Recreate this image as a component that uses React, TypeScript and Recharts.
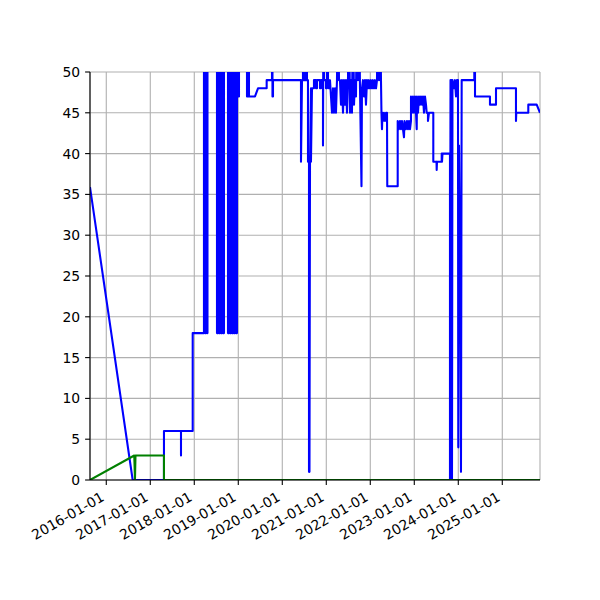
import { LineChart, Line, XAxis, YAxis, CartesianGrid } from "recharts";

// x values are decimal years (2018.5 = mid 2018); y range is clipped at 0..50
const X_MIN = 2015.63;
const X_MAX = 2025.857;
const YEAR_TICKS = [2016, 2017, 2018, 2019, 2020, 2021, 2022, 2023, 2024, 2025];
const Y_TICKS = [0, 5, 10, 15, 20, 25, 30, 35, 40, 45, 50];

const FONT = "DejaVu Sans";
const FONT_SIZE = 13.9;

// values above 50 are off the top of the plot (clipped), as in the original
const BLUE_DATES = [
  2015.63, 2016.6, 2017.311, 2017.311, 2017.698, 2017.698, 2017.698, 2017.964, 2017.964, 2018.22,
  2018.22, 2018.243, 2018.243, 2018.266, 2018.266, 2018.289, 2018.289, 2018.3, 2018.3, 2018.516,
  2018.516, 2018.539, 2018.539, 2018.561, 2018.561, 2018.584, 2018.584, 2018.607, 2018.607, 2018.63,
  2018.63, 2018.652, 2018.652, 2018.675, 2018.675, 2018.766, 2018.766, 2018.789, 2018.789, 2018.811,
  2018.811, 2018.834, 2018.834, 2018.857, 2018.857, 2018.88, 2018.88, 2018.902, 2018.902, 2018.925,
  2018.925, 2018.948, 2018.948, 2018.97, 2018.97, 2018.993, 2018.993, 2019.016, 2019.016, 2019.198,
  2019.198, 2019.22, 2019.22, 2019.243, 2019.243, 2019.38, 2019.448, 2019.645, 2019.645, 2019.766,
  2019.766, 2019.777, 2019.777, 2019.789, 2019.789, 2020.425, 2020.425, 2020.448, 2020.47, 2020.47,
  2020.505, 2020.505, 2020.539, 2020.539, 2020.561, 2020.561, 2020.584, 2020.584, 2020.607, 2020.607,
  2020.618, 2020.63, 2020.652, 2020.652, 2020.675, 2020.72, 2020.72, 2020.766, 2020.766, 2020.789,
  2020.789, 2020.857, 2020.857, 2020.88, 2020.88, 2020.925, 2020.925, 2020.936, 2020.948, 2020.993,
  2020.993, 2021.016, 2021.016, 2021.039, 2021.039, 2021.061, 2021.084, 2021.107, 2021.13, 2021.152,
  2021.175, 2021.198, 2021.22, 2021.243, 2021.266, 2021.289, 2021.311, 2021.334, 2021.357, 2021.38,
  2021.402, 2021.425, 2021.448, 2021.47, 2021.493, 2021.516, 2021.539, 2021.561, 2021.584, 2021.607,
  2021.63, 2021.652, 2021.675, 2021.698, 2021.72, 2021.743, 2021.766, 2021.8, 2021.811, 2021.834,
  2021.857, 2021.88, 2021.902, 2021.925, 2021.948, 2021.97, 2021.993, 2022.016, 2022.039, 2022.061,
  2022.084, 2022.107, 2022.13, 2022.152, 2022.175, 2022.198, 2022.22, 2022.243, 2022.254, 2022.266,
  2022.277, 2022.289, 2022.311, 2022.334, 2022.357, 2022.38, 2022.386, 2022.623, 2022.623, 2022.652,
  2022.675, 2022.698, 2022.72, 2022.743, 2022.766, 2022.777, 2022.811, 2022.834, 2022.857, 2022.88,
  2022.902, 2022.925, 2022.925, 2022.948, 2022.97, 2022.993, 2023.016, 2023.039, 2023.055, 2023.061,
  2023.084, 2023.107, 2023.13, 2023.152, 2023.175, 2023.198, 2023.22, 2023.243, 2023.266, 2023.282,
  2023.311, 2023.311, 2023.334, 2023.432, 2023.432, 2023.505, 2023.509, 2023.516, 2023.623, 2023.623,
  2023.63, 2023.641, 2023.811, 2023.811, 2023.823, 2023.834, 2023.845, 2023.857, 2023.868, 2023.902,
  2023.925, 2023.948, 2023.97, 2023.993, 2024.0, 2024.016, 2024.027, 2024.039, 2024.045, 2024.052,
  2024.061, 2024.077, 2024.364, 2024.364, 2024.38, 2024.38, 2024.72, 2024.72, 2024.857, 2024.857,
  2025.311, 2025.311, 2025.318, 2025.591, 2025.591, 2025.782, 2025.857,
];

const BLUE_VALUES = [
  35.9, 0, 0, 6, 6, 3, 6, 6, 18, 18,
  60, 60, 18, 18, 60, 60, 18, 18, 60, 60,
  18, 18, 60, 60, 18, 18, 60, 60, 18, 18,
  60, 60, 18, 18, 60, 60, 18, 18, 60, 60,
  18, 18, 60, 60, 18, 18, 60, 60, 18, 18,
  60, 60, 18, 18, 60, 60, 47, 47, 60, 60,
  47, 47, 60, 60, 47, 47, 48, 48, 49, 49,
  60, 60, 47, 47, 49, 49, 39, 49, 49, 60,
  60, 49, 49, 60, 60, 49, 49, 39, 39, 1,
  1, 39, 48, 39, 48, 48, 49, 49, 48, 48,
  49, 49, 48, 48, 49, 49, 41, 60, 49, 49,
  48, 48, 60, 60, 49, 48, 49, 47, 45, 48,
  45, 48, 45, 49, 60, 49, 49, 46, 49, 45,
  49, 46, 49, 45, 49, 60, 45, 49, 45, 60,
  46, 49, 47, 60, 49, 60, 48, 36, 48, 49,
  47, 49, 46, 49, 48, 49, 48, 49, 48, 49,
  48, 49, 48, 49, 60, 49, 60, 49, 45, 43,
  45, 44, 45, 44, 45, 45, 36, 36, 44, 43,
  44, 43, 44, 43, 42, 44, 43, 44, 43, 44,
  43, 44, 47, 45, 47, 45, 47, 45, 43, 47,
  45, 47, 46, 47, 46, 47, 45, 47, 46, 45,
  45, 44, 45, 45, 39, 39, 38, 39, 39, 40,
  39, 40, 40, 0, 49, 0, 49, 0, 49, 48,
  49, 47, 49, 49, 4, 41, 33, 19, 33, 19,
  1, 49, 49, 50, 50, 47, 47, 46, 46, 48,
  48, 44, 45, 45, 46, 46, 45,
];

const GREEN_DATES = [2015.63, 2016.636, 2016.652, 2016.664, 2017.311, 2017.311, 2025.857];
const GREEN_VALUES = [0, 3, 0, 3, 3, 0, 0];

const toRows = (dates: number[], values: number[]) =>
  dates.map((x, i) => ({ x, y: values[i] }));

const blueData = toRows(BLUE_DATES, BLUE_VALUES);
const greenData = toRows(GREEN_DATES, GREEN_VALUES);

// matplotlib-style label: rotated 30deg, right end under the tick
function DateTick({ x, y, payload }: any) {
  const ex = x - 1;
  const ey = y + 10;
  return (
    <text
      x={ex}
      y={ey}
      textAnchor="end"
      transform={`rotate(-30 ${ex} ${ey})`}
      fontFamily={FONT}
      fontSize={FONT_SIZE}
      fill="#000"
    >
      {`${payload.value}-01-01`}
    </text>
  );
}

export default function App() {
  return (
    <div style={{ position: "absolute", left: 0, top: 0, width: 600, height: 600, background: "#fff" }}>
      <LineChart
        width={600}
        height={600}
        margin={{ top: 72, right: 60, bottom: 60, left: 30 }}
      >
        <CartesianGrid stroke="#b0b0b0" strokeWidth={1.1} />
        <XAxis
          dataKey="x"
          type="number"
          domain={[X_MIN, X_MAX]}
          ticks={YEAR_TICKS}
          allowDataOverflow
          height={60}
          stroke="#000"
          strokeWidth={1.1}
          tickSize={4.9}
          tickMargin={4.9}
          tick={<DateTick />}
        />
        <XAxis
          xAxisId="top"
          orientation="top"
          type="number"
          domain={[X_MIN, X_MAX]}
          allowDataOverflow
          height={0}
          stroke="#000"
          strokeWidth={1.1}
          tick={false}
          tickLine={false}
        />
        <YAxis
          type="number"
          domain={[0, 50]}
          ticks={Y_TICKS}
          allowDataOverflow
          width={60}
          stroke="#000"
          strokeWidth={1.1}
          tickSize={4.9}
          tickMargin={4.9}
          tick={{ fontFamily: FONT, fontSize: FONT_SIZE, fill: "#000" }}
        />
        <YAxis
          yAxisId="right"
          orientation="right"
          type="number"
          domain={[0, 50]}
          allowDataOverflow
          width={0}
          stroke="#000"
          strokeWidth={1.1}
          tick={false}
          tickLine={false}
        />
        <Line
          data={blueData}
          dataKey="y"
          stroke="#0000ff"
          strokeWidth={2.08}
          strokeLinejoin="round"
          dot={false}
          activeDot={false}
          isAnimationActive={false}
        />
        <Line
          data={greenData}
          dataKey="y"
          stroke="#008000"
          strokeWidth={2.08}
          strokeLinejoin="round"
          dot={false}
          activeDot={false}
          isAnimationActive={false}
        />
      </LineChart>
    </div>
  );
}
